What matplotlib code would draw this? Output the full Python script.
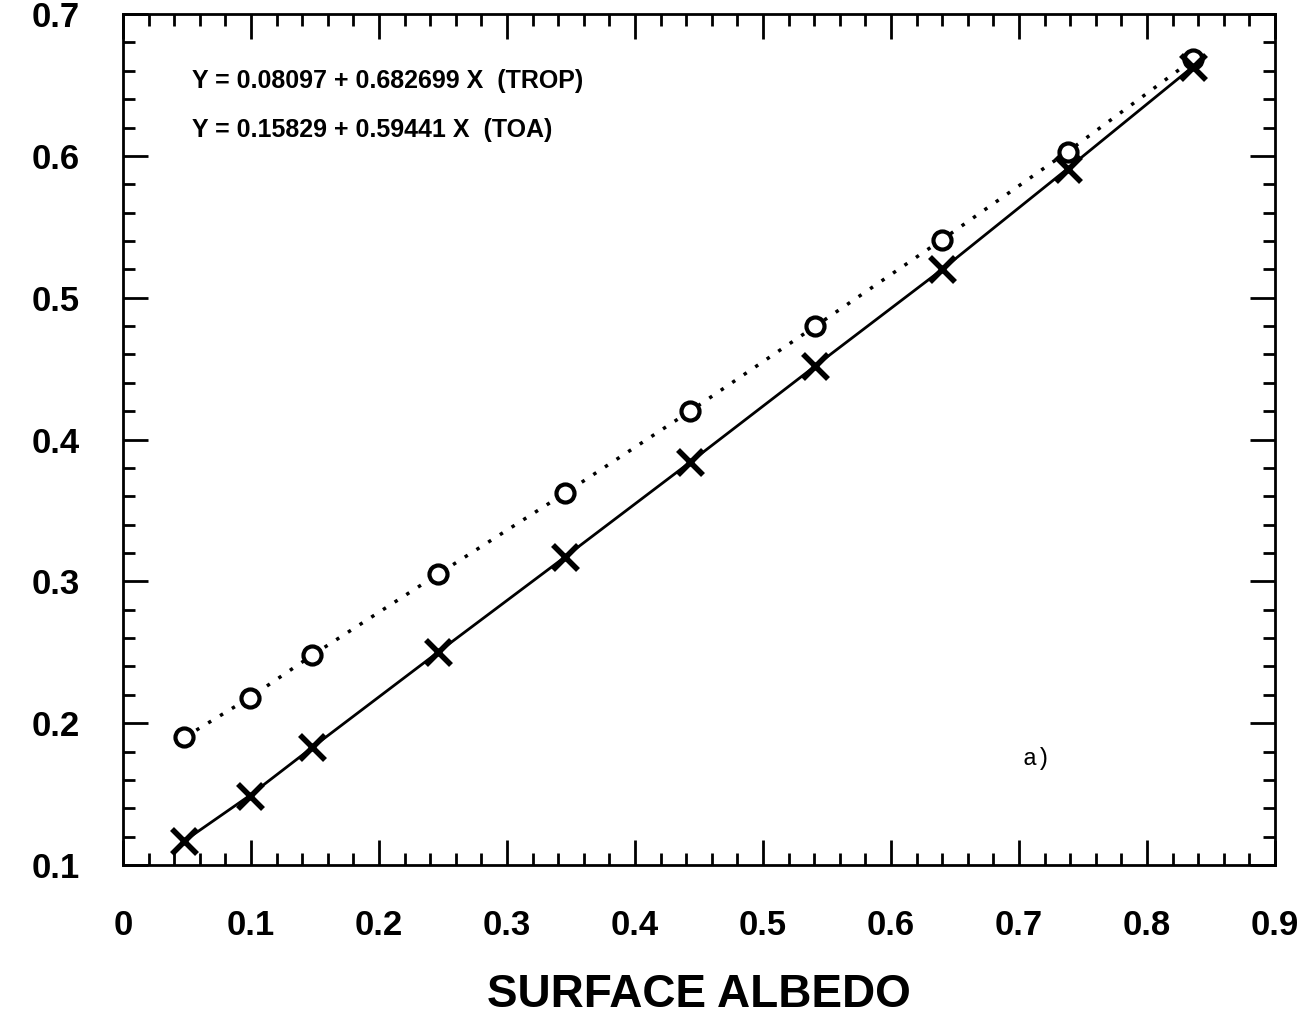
import numpy as np
import matplotlib.pyplot as plt
from matplotlib.ticker import MultipleLocator

# surface albedo vs planetary albedo
albedo = [0.048, 0.099, 0.148, 0.246, 0.345, 0.443, 0.541, 0.640, 0.738, 0.836]
toa = [0.190, 0.218, 0.248, 0.305, 0.362, 0.420, 0.480, 0.541, 0.603, 0.668]
trop = [0.117, 0.149, 0.183, 0.250, 0.317, 0.384, 0.452, 0.520, 0.591, 0.663]

xticks = [0, 0.1, 0.2, 0.3, 0.4, 0.5, 0.6, 0.7, 0.8, 0.9]
xlabels = ['0', '0.1', '0.2', '0.3', '0.4', '0.5', '0.6', '0.7', '0.8', '0.9']
yticks = [0.1, 0.2, 0.3, 0.4, 0.5, 0.6, 0.7]
ylabels = ['0.1', '0.2', '0.3', '0.4', '0.5', '0.6', '0.7']

eq_trop = 'Y = 0.08097 + 0.682699 X  (TROP)'
eq_toa = 'Y = 0.15829 + 0.59441 X  (TOA)'

fig = plt.figure(figsize=(13.1, 10.18), dpi=100)
ax = fig.add_axes([0.0939, 0.1503, 0.8794, 0.8359])

ax.plot(albedo, toa, color='black', linestyle=(0, (1, 3)), linewidth=2.5)
ax.plot(albedo, trop, color='black', linestyle='-', linewidth=2)
ax.plot(albedo, toa, linestyle='none', marker='o', markersize=13,
        markerfacecolor='white', markeredgecolor='black', markeredgewidth=3)
ax.plot(albedo, trop, linestyle='none', marker='x', markersize=18,
        color='black', markeredgewidth=4)

ax.set_xlim(0, 0.9)
ax.set_ylim(0.1, 0.7)
ax.set_xticks(xticks, xlabels)
ax.set_yticks(yticks, ylabels)
ax.xaxis.set_minor_locator(MultipleLocator(0.02))
ax.yaxis.set_minor_locator(MultipleLocator(0.02))

ax.tick_params(which='both', direction='in', top=True, right=True, width=2)
ax.tick_params(which='major', length=18)
ax.tick_params(which='minor', length=8.5)
ax.tick_params(axis='x', which='major', pad=32)
ax.tick_params(axis='y', which='major', pad=31)
for lab in ax.get_xticklabels() + ax.get_yticklabels():
    lab.set_fontfamily('Liberation Sans')
    lab.set_fontweight('bold')
    lab.set_fontsize(25)
for sp in ax.spines.values():
    sp.set_linewidth(2)

ax.set_xlabel('SURFACE ALBEDO', fontsize=33, fontweight='bold',
              family='Liberation Sans', labelpad=22)

ax.text(0.054, 0.653, eq_trop, fontsize=18, fontweight='bold',
        family='Liberation Sans', va='center')
ax.text(0.054, 0.618, eq_toa, fontsize=18, fontweight='bold',
        family='Liberation Sans', va='center')
ax.text(0.714, 0.175, 'a)', fontsize=17, family='Liberation Mono',
        ha='center', va='center')

fig.savefig('out.png', dpi=100)
